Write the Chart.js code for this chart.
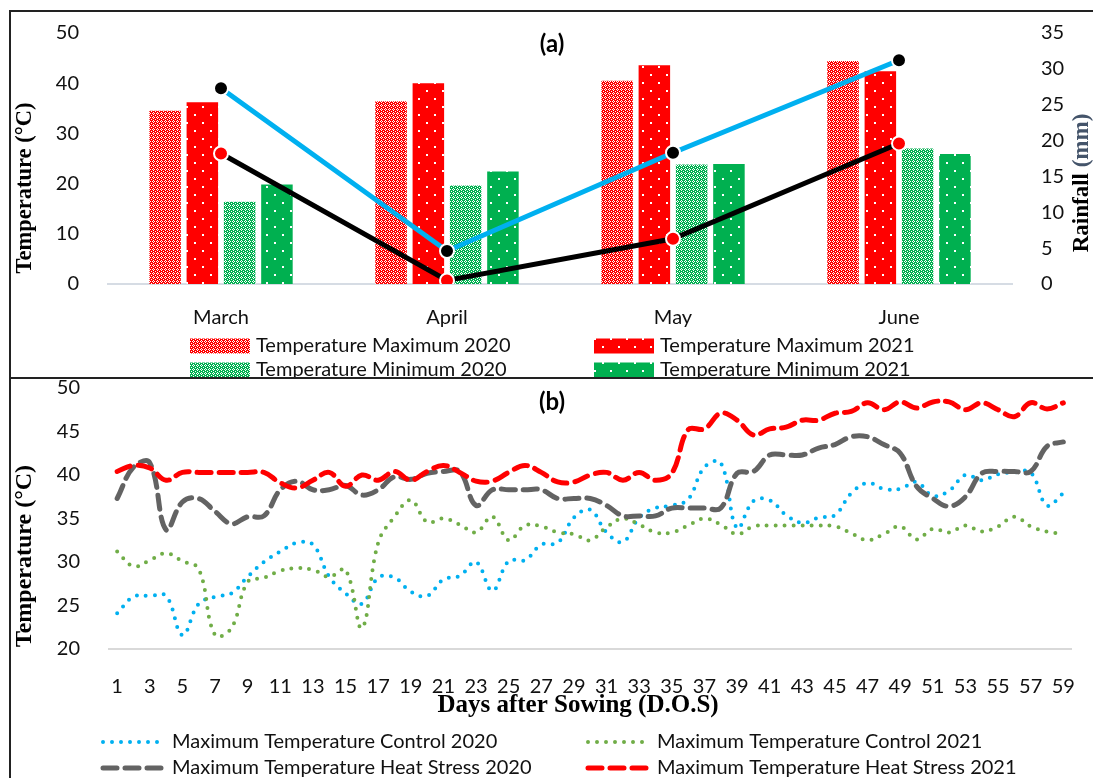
<!DOCTYPE html>
<html lang="en">
<head>
<meta charset="UTF-8">
<title>Temperature and Rainfall</title>
<script src="https://cdn.jsdelivr.net/npm/chart.js"></script>
<style>
  body { margin: 0; background: #fff; }
  .page { position: relative; width: 1093px; height: 778px; overflow: hidden; }
  .panel { position: absolute; left: 0; width: 1093px; }
  /* chart areas start 33px below each canvas top, so the canvases are shifted up */
  #panelA { top: 0; height: 377px; z-index: 1; }
  #panelB { top: 355px; height: 423px; z-index: 1; }
  .rule { position: absolute; background: #222; z-index: 3; }
</style>
</head>
<body>
<div class="page">
  <div class="panel" id="panelA"><canvas id="chartA"></canvas></div>
  <div class="panel" id="panelB"><canvas id="chartB"></canvas></div>
  <div class="rule" style="left:9px; top:10px; width:1084px; height:2px"></div>
  <div class="rule" style="left:9px; top:10px; width:2px; height:768px"></div>
  <div class="rule" style="left:9px; top:377px; width:1084px; height:2px"></div>
</div>

<script>
// (a) monthly means
const months = ['March', 'April', 'May', 'June'];
const tempMax2020 = [34.5, 36.4, 40.5, 44.4];
const tempMax2021 = [36.2, 40.0, 43.6, 42.4];
const tempMin2020 = [16.4, 19.6, 23.8, 27.0];
const tempMin2021 = [19.8, 22.4, 23.9, 25.9];
const rainfall2020 = [27.3, 4.6, 18.3, 31.2];
const rainfall2021 = [18.2, 0.5, 6.3, 19.6];

// (b) daily maximum temperature
const days = [1, 2, 3, 4, 5, 6, 7, 8, 9, 10, 11, 12, 13, 14, 15, 16, 17, 18, 19, 20,
  21, 22, 23, 24, 25, 26, 27, 28, 29, 30, 31, 32, 33, 34, 35, 36, 37, 38, 39, 40,
  41, 42, 43, 44, 45, 46, 47, 48, 49, 50, 51, 52, 53, 54, 55, 56, 57, 58, 59];
const control2020 = [24.1, 26.0, 26.1, 26.1, 21.6, 25.2, 26.0, 26.4, 28.3, 30.0,
  31.2, 32.2, 32.0, 28.3, 26.4, 25.2, 28.2, 28.2, 26.6, 26.1,
  28.0, 28.4, 30.0, 26.7, 30.1, 30.2, 32.0, 32.2, 35.1, 36.0,
  33.4, 32.3, 35.1, 36.2, 36.5, 37.2, 40.9, 41.4, 33.9, 37.0,
  37.1, 35.4, 34.5, 35.1, 35.4, 37.9, 39.1, 38.4, 38.4, 39.2,
  37.6, 38.2, 40.0, 39.4, 40.1, 40.3, 40.3, 36.5, 37.9];
const control2021 = [31.2, 29.5, 30.2, 31.0, 30.1, 29.2, 21.6, 22.4, 27.7, 28.2,
  29.0, 29.3, 29.1, 28.3, 29.1, 22.4, 32.2, 35.2, 37.1, 34.6,
  35.0, 34.3, 33.4, 35.2, 32.5, 34.2, 34.1, 33.4, 33.2, 32.5,
  34.0, 35.0, 34.3, 33.4, 33.4, 34.2, 35.0, 34.3, 33.2, 34.1,
  34.2, 34.2, 34.2, 34.2, 34.1, 33.3, 32.5, 33.2, 34.1, 32.6,
  33.8, 33.4, 34.2, 33.5, 34.1, 35.2, 34.1, 33.5, 33.2];
const heat2020 = [37.3, 40.9, 41.4, 33.7, 36.9, 37.3, 35.8, 34.4, 35.2, 35.3,
  38.3, 39.3, 38.3, 38.3, 38.8, 37.7, 38.3, 39.8, 39.5, 40.2,
  40.4, 40.4, 36.5, 38.3, 38.3, 38.3, 38.3, 37.3, 37.3, 37.3,
  36.5, 35.3, 35.3, 35.3, 36.2, 36.2, 36.2, 36.2, 40.2, 40.4,
  42.3, 42.3, 42.3, 43.1, 43.5, 44.4, 44.4, 43.5, 42.5, 38.7,
  37.3, 36.4, 37.5, 40.2, 40.4, 40.4, 40.4, 43.3, 43.8];
const heat2021 = [40.4, 41.1, 40.8, 39.4, 40.3, 40.3, 40.3, 40.3, 40.3, 40.3,
  39.1, 38.5, 39.4, 40.3, 38.7, 40.0, 39.4, 40.4, 39.4, 40.4,
  41.1, 40.3, 39.3, 39.3, 40.3, 41.1, 40.3, 39.2, 39.2, 40.0,
  40.3, 39.4, 40.3, 39.4, 40.2, 45.2, 45.3, 47.1, 46.3, 44.6,
  45.3, 45.5, 46.3, 46.3, 47.1, 47.3, 48.3, 47.5, 48.4, 47.7,
  48.4, 48.4, 47.5, 48.3, 47.5, 46.7, 48.3, 47.6, 48.3];

Chart.defaults.font.family = 'Lato, "Open Sans", sans-serif';
Chart.defaults.font.size = 20;
Chart.defaults.color = '#111';

const serif = '"Liberation Serif", "Times New Roman", serif';

function crossPattern(color) {
  const c = document.createElement('canvas');
  c.width = 4; c.height = 4;
  const g = c.getContext('2d');
  g.fillStyle = color;
  g.fillRect(0, 0, 4, 4);
  g.fillStyle = '#fff';
  [[1, 0], [0, 1], [2, 1], [1, 2], [3, 3]].forEach(([x, y]) => g.fillRect(x, y, 1, 1));
  return g.createPattern(c, 'repeat');
}

function dotPattern(color) {
  const c = document.createElement('canvas');
  c.width = 16; c.height = 16;
  const g = c.getContext('2d');
  g.fillStyle = color;
  g.fillRect(0, 0, 16, 16);
  g.fillStyle = '#fff';
  g.fillRect(2, 2, 2, 2);
  g.fillRect(10, 10, 2, 2);
  return g.createPattern(c, 'repeat');
}

// legend laid out in two fixed columns, like the original
function gridLegend(cols, rows, kind) {
  return {
    id: 'gridLegend',
    afterDraw(chart) {
      const ctx = chart.ctx;
      ctx.save();
      ctx.font = '20px Lato, "Open Sans", sans-serif';
      ctx.textBaseline = 'middle';
      let n = 0;
      chart.data.datasets.forEach(ds => {
        if (ds.inLegend === false) return;
        const x = cols[n % 2], y = rows[Math.floor(n / 2)];
        if (kind === 'box') {
          ctx.fillStyle = ds.backgroundColor;
          ctx.fillRect(x, y - 7.5, 60, 15);
        } else {
          ctx.save();
          ctx.strokeStyle = ds.borderColor;
          ctx.lineWidth = ds.borderWidth;
          ctx.lineCap = ds.borderCapStyle || 'butt';
          ctx.setLineDash(ds.borderDash || []);
          ctx.beginPath();
          ctx.moveTo(x + 3, y);
          ctx.lineTo(x + 65, y);
          ctx.stroke();
          ctx.restore();
        }
        ctx.fillStyle = '#111';
        ctx.fillText(ds.label, x + (kind === 'box' ? 66 : 72), y);
        n++;
      });
      ctx.restore();
    }
  };
}

// panel letters and axis titles (one title has two colours)
function textMarks(items) {
  return {
    id: 'textMarks',
    afterDraw(chart) {
      const ctx = chart.ctx;
      items.forEach(item => {
        ctx.save();
        ctx.translate(item.x, item.y);
        ctx.rotate(item.rotate || 0);
        ctx.font = item.font;
        ctx.textBaseline = 'middle';
        ctx.textAlign = 'left';
        let total = 0;
        item.parts.forEach(p => { total += ctx.measureText(p.text).width; });
        let x = -total / 2;
        item.parts.forEach(p => {
          ctx.fillStyle = p.color;
          ctx.fillText(p.text, x, 0);
          x += ctx.measureText(p.text).width;
        });
        ctx.restore();
      });
    }
  };
}

const up = -Math.PI / 2;

new Chart(document.getElementById('chartA'), {
  type: 'bar',
  data: {
    labels: months,
    datasets: [
      { type: 'line', label: 'Rainfall 2020', data: rainfall2020, yAxisID: 'rain', order: 0, inLegend: false,
        borderColor: '#00B0F0', borderWidth: 5, pointRadius: 7, pointBackgroundColor: '#000',
        pointBorderColor: '#fff', pointBorderWidth: 2 },
      { type: 'line', label: 'Rainfall 2021', data: rainfall2021, yAxisID: 'rain', order: 0, inLegend: false,
        borderColor: '#000', borderWidth: 5, pointRadius: 7, pointBackgroundColor: '#FF0000',
        pointBorderColor: '#fff', pointBorderWidth: 2 },
      { label: 'Temperature Maximum 2020', data: tempMax2020, order: 1, backgroundColor: crossPattern('#FF0000') },
      { label: 'Temperature Maximum 2021', data: tempMax2021, order: 1, backgroundColor: dotPattern('#FF0000') },
      { label: 'Temperature Minimum 2020', data: tempMin2020, order: 1, backgroundColor: crossPattern('#00B050') },
      { label: 'Temperature Minimum 2021', data: tempMin2021, order: 1, backgroundColor: dotPattern('#00B050') }
    ]
  },
  options: {
    responsive: true,
    maintainAspectRatio: false,
    animation: false,
    layout: { padding: 0 },
    datasets: { bar: { barPercentage: 0.845, categoryPercentage: 0.66 } },
    plugins: { legend: { display: false }, tooltip: { enabled: false } },
    scales: {
      x: {
        grid: { display: false },
        border: { color: '#D6DCE4', width: 2 },
        ticks: { padding: 14 },
        afterFit: s => { s.height = 93; }
      },
      y: {
        position: 'left', min: 0, max: 50,
        ticks: { stepSize: 10, padding: 21 },
        grid: { display: false },
        border: { display: false },
        afterFit: s => { s.width = 108; }
      },
      rain: {
        position: 'right', min: 0, max: 35,
        ticks: { stepSize: 5, padding: 21 },
        grid: { display: false },
        border: { display: false },
        afterFit: s => { s.width = 81; }
      }
    }
  },
  plugins: [
    gridLegend([190, 594], [346, 370], 'box'),
    textMarks([
      { x: 552, y: 44, font: 'bold 24px Lato, sans-serif', parts: [{ text: '(a)', color: '#000' }] },
      { x: 25, y: 188, rotate: up, font: 'bold 22.5px ' + serif, parts: [{ text: 'Temperature (°C)', color: '#000' }] },
      { x: 1082, y: 183, rotate: up, font: 'bold 23px ' + serif,
        parts: [{ text: 'Rainfall ', color: '#000' }, { text: '(mm)', color: '#44546A' }] }
    ])
  ]
});

const dotted = { borderWidth: 4, borderDash: [0, 9], borderCapStyle: 'round' };
const dashed = { borderWidth: 5, borderDash: [14, 8], borderCapStyle: 'round' };

new Chart(document.getElementById('chartB'), {
  type: 'line',
  data: {
    labels: days,
    datasets: [
      { label: 'Maximum Temperature Control 2020', data: control2020, borderColor: '#00B0F0', order: 3, ...dotted },
      { label: 'Maximum Temperature Control 2021', data: control2021, borderColor: '#70AD47', order: 2, ...dotted },
      { label: 'Maximum Temperature Heat Stress 2020', data: heat2020, borderColor: '#636363', order: 1, ...dashed },
      { label: 'Maximum Temperature Heat Stress 2021', data: heat2021, borderColor: '#FF0000', order: 0, ...dashed }
    ]
  },
  options: {
    responsive: true,
    maintainAspectRatio: false,
    animation: false,
    layout: { padding: { left: 0, right: 8, top: 0, bottom: 0 } },
    elements: { point: { radius: 0 }, line: { tension: 0.4 } },
    plugins: { legend: { display: false }, tooltip: { enabled: false } },
    scales: {
      x: {
        offset: true,
        grid: { display: false },
        border: { color: '#D9D9D9', width: 2 },
        ticks: { autoSkip: false, maxRotation: 0, padding: 18, callback: (v, i) => (i % 2 === 0 ? days[i] : '') },
        afterFit: s => { s.height = 129; }
      },
      y: {
        min: 20, max: 50,
        ticks: { stepSize: 5, padding: 21 },
        grid: { display: false },
        border: { display: false },
        afterFit: s => { s.width = 109; }
      }
    }
  },
  plugins: [
    gridLegend([100, 585], [387, 413], 'line'),
    textMarks([
      { x: 552, y: 47, font: 'bold 24px Lato, sans-serif', parts: [{ text: '(b)', color: '#000' }] },
      { x: 25, y: 201, rotate: up, font: 'bold 24px ' + serif, parts: [{ text: 'Temperature (°C)', color: '#000' }] },
      { x: 578, y: 351, font: 'bold 25px ' + serif, parts: [{ text: 'Days after Sowing (D.O.S)', color: '#000' }] }
    ])
  ]
});
</script>
</body>
</html>
